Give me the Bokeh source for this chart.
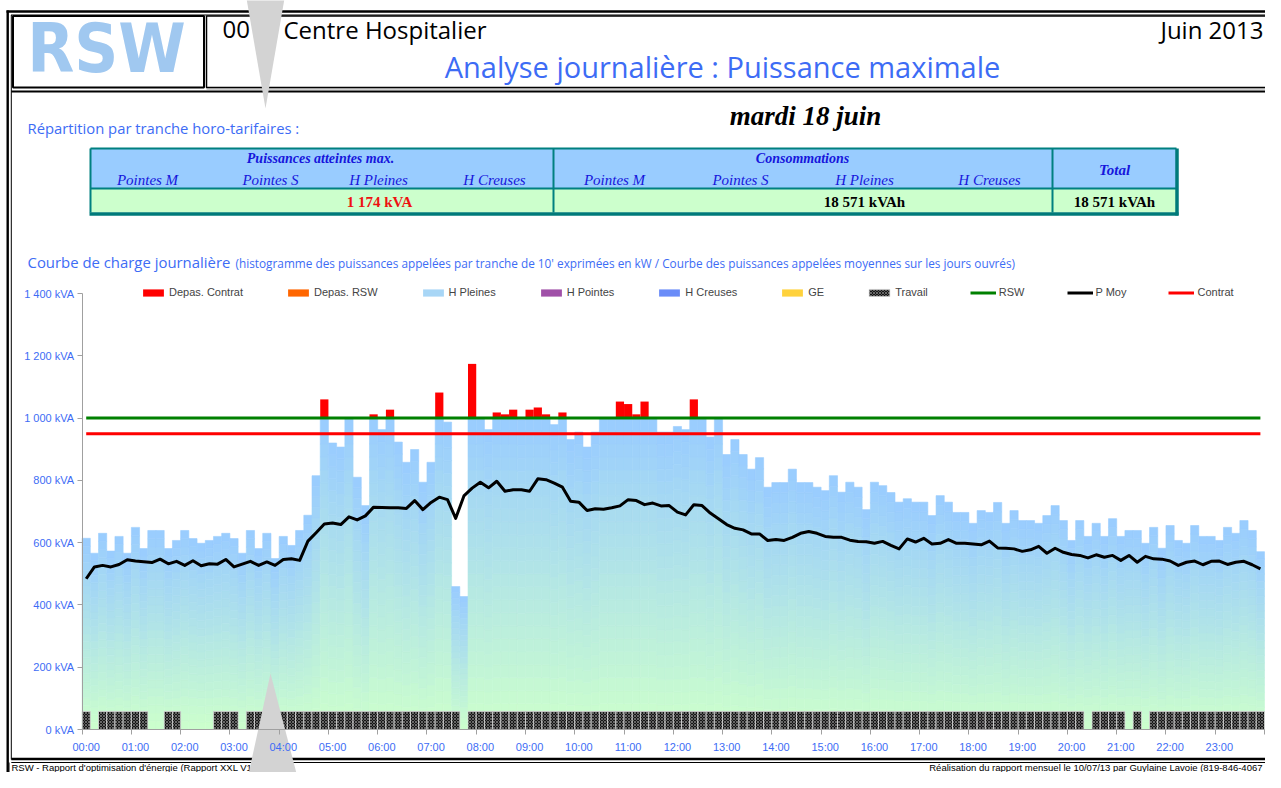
from bokeh.plotting import figure
from bokeh.models import Range1d, LinearAxis, FixedTicker, Legend, LegendItem, ColumnDataSource
from bokeh.core.properties import value
from bokeh.embed import file_html
from bokeh.resources import INLINE

# ---------------- data ----------------
hour_labels = ["%02d:00" % h for h in range(24)]
y_ticks = [0, 200, 400, 600, 800, 1000, 1200, 1400]
y_labels = ["0 kVA", "200 kVA", "400 kVA", "600 kVA", "800 kVA", "1 000 kVA", "1 200 kVA", "1 400 kVA"]

# puissance appelée par tranche de 10 minutes (kVA), 00:00 -> 23:50
puissance = [
    614, 566, 630, 573, 620, 566, 649, 581, 639, 639, 581, 607,
    639, 613, 598, 607, 620, 630, 613, 566, 639, 581, 630, 549,
    620, 591, 639, 688, 815, 1060, 920, 907, 1000, 810, 719, 1012,
    963, 1027, 923, 858, 899, 794, 858, 1082, 987, 459, 427, 1174,
    1000, 963, 1018, 1012, 1027, 995, 1027, 1034, 1012, 979, 1018, 931,
    955, 907, 955, 1000, 1000, 1053, 1045, 1012, 1053, 1000, 955, 955,
    973, 963, 1060, 1000, 939, 1000, 883, 931, 883, 836, 873, 778,
    793, 793, 836, 793, 793, 778, 767, 815, 762, 794, 778, 706,
    794, 783, 761, 730, 741, 730, 730, 687, 751, 730, 697, 697,
    662, 703, 697, 729, 662, 703, 671, 671, 662, 687, 719, 671,
    607, 671, 620, 662, 620, 677, 620, 639, 639, 598, 649, 582,
    655, 607, 598, 655, 620, 620, 607, 649, 630, 671, 639, 571,
]
# puissance moyenne des jours ouvrés (kVA)
p_moy = [
    484, 522, 527, 522, 530, 545, 541, 539, 536, 547, 532, 540,
    527, 542, 526, 532, 531, 546, 522, 531, 540, 527, 538, 527,
    546, 548, 543, 605, 632, 660, 663, 658, 683, 673, 686, 714,
    713, 712, 712, 710, 735, 706, 729, 746, 738, 678, 750, 775,
    794, 776, 797, 765, 770, 770, 765, 805, 802, 791, 778, 733,
    730, 703, 709, 707, 712, 718, 738, 735, 722, 727, 718, 719,
    698, 689, 722, 719, 695, 677, 658, 646, 641, 628, 628, 607,
    610, 607, 617, 630, 636, 630, 620, 617, 617, 608, 604, 603,
    598, 604, 591, 580, 612, 602, 614, 596, 598, 610, 598, 598,
    596, 593, 605, 583, 582, 580, 572, 577, 588, 566, 582, 569,
    562, 559, 551, 561, 553, 559, 543, 559, 537, 556, 548, 547,
    541, 527, 537, 541, 529, 540, 541, 530, 537, 540, 529, 516,
]
# tranches de travail (1 = travail)
travail = [
    1, 0, 1, 1, 1, 1, 1, 1, 0, 0, 1, 1,
    0, 0, 0, 0, 1, 1, 1, 0, 1, 1, 1, 1,
    1, 1, 1, 1, 1, 1, 1, 1, 1, 1, 1, 1,
    1, 1, 1, 1, 1, 1, 1, 1, 1, 1, 0, 1,
    1, 1, 1, 1, 1, 1, 1, 1, 1, 1, 1, 1,
    1, 1, 1, 1, 1, 1, 1, 1, 1, 1, 1, 1,
    1, 1, 1, 1, 1, 1, 1, 1, 1, 1, 1, 1,
    1, 1, 1, 1, 1, 1, 1, 1, 1, 1, 1, 1,
    1, 1, 1, 1, 1, 1, 1, 1, 1, 1, 1, 1,
    1, 1, 1, 1, 1, 1, 1, 1, 1, 1, 1, 1,
    1, 1, 0, 1, 1, 1, 1, 0, 1, 0, 1, 1,
    1, 1, 1, 1, 1, 1, 1, 1, 1, 1, 1, 1,
]
travail_kva = 58
rsw_kva = 1000
contrat_kva = 950

site_code = "00"
site_name = "Centre Hospitalier"
month_label = "Juin 2013"
page_title = "Analyse journalière : Puissance maximale"
day_label = "mardi 18 juin"
tranches = ["Pointes M", "Pointes S", "H Pleines", "H Creuses"]
max_power_label = "1 174 kVA"
conso_label = "18 571 kVAh"
total_label = "18 571 kVAh"
footer_left = "RSW - Rapport d'optimisation d'énergie (Rapport XXL V1.35"
footer_right = "Réalisation du rapport mensuel le 10/07/13 par Guylaine Lavoie (819-846-4067"

# ---------------- layout constants (screen pixels) ----------------
W, H = 1265, 772
AX_X = 81.6
n = len(puissance)
BAR_PX = (1264.0 - AX_X) / n
ZERO_Y, TOP_Y, YMAX = 729.0, 293.0, 1400.0
KPX = (ZERO_Y - TOP_Y) / YMAX

BLUE = "#3d6cf5"
TBLUE = "#1616dc"
NARROW = "Liberation Sans Narrow, Liberation Sans, sans-serif"
SANS = "Liberation Sans"
UI = "Open Sans"
SERIF = "Liberation Serif"

p = figure(width=W, height=H, x_range=Range1d(0, W), y_range=Range1d(H, 0),
           output_backend="svg", toolbar_location=None, min_border=0,
           x_axis_type=None, y_axis_type=None)
p.outline_line_color = None
p.background_fill_color = "white"
p.xgrid.visible = False
p.ygrid.visible = False
p.extra_x_ranges = {"bars": Range1d((0 - AX_X) / BAR_PX - 0.5, (W - AX_X) / BAR_PX - 0.5)}
p.extra_y_ranges = {"kva": Range1d((ZERO_Y - H) / KPX, ZERO_Y / KPX)}
CH = dict(x_range_name="bars", y_range_name="kva")

# ---------------- frame / header decorations ----------------
p.segment(x0=[6, 10.5], y0=[11, 14.5], x1=[W, W], y1=[11, 14.5], line_color="black", line_width=[2.5, 1])
p.segment(x0=[7.2, 10.8], y0=[10, 14.5], x1=[7.2, 10.8], y1=[H, 759], line_color="black", line_width=[2.4, 1])
p.quad(left=[12.5], right=[203.5], top=[15.5], bottom=[87], fill_color=None, line_color="black", line_width=2)
p.quad(left=[206], right=[1300], top=[15.5], bottom=[87], fill_color=None, line_color="black", line_width=1.5)
p.segment(x0=[206], y0=[88.3], x1=[W], y1=[88.3], line_color="#a0a0a0", line_width=1.5)
p.segment(x0=[10.8], y0=[91], x1=[W], y1=[91], line_color="black", line_width=2)
p.segment(x0=[10.8, 10.8], y0=[758.5, 762], x1=[W, W], y1=[758.5, 762], line_color="black", line_width=[2.5, 1])

# logo
p.text(x=[106], y=[48], text=["RSW"], text_font=value("DejaVu Sans Condensed, Liberation Sans Narrow, sans-serif"),
       text_font_style="bold", text_font_size="68px", text_color="#a0c8f0", text_align="center",
       text_baseline="middle")

# header texts
p.text(x=[222], y=[29], text=[site_code], text_font=value(UI), text_font_size="24px",
       text_color="black", text_baseline="middle")
p.text(x=[283], y=[29], text=[site_name], text_font=value(UI), text_font_size="24px",
       text_color="black", text_baseline="middle")
p.text(x=[1263], y=[29], text=[month_label], text_font=value(UI), text_font_size="24px",
       text_color="black", text_align="right", text_baseline="middle")
p.text(x=[722], y=[66], text=[page_title], text_font=value(UI), text_font_size="29px",
       text_color=BLUE, text_align="center", text_baseline="middle")
p.text(x=[27], y=[127], text=["Répartition par tranche horo-tarifaires :"], text_font=value(UI),
       text_font_size="14.8px", text_color=BLUE, text_baseline="middle")
p.text(x=[805], y=[115], text=[day_label], text_font=value(SERIF), text_font_style="bold italic",
       text_font_size="27px", text_color="black", text_align="center", text_baseline="middle")

# table
p.quad(left=[90, 90], right=[1176, 1176], top=[148, 188], bottom=[188, 212],
       fill_color=["#99ccff", "#ccffcc"], line_color=None)
p.segment(x0=[90, 90, 90, 553, 1052], y0=[148, 188, 148, 148, 148],
          x1=[1176, 1176, 90, 553, 1052], y1=[148, 188, 212, 212, 212],
          line_color="#008080", line_width=2)
p.segment(x0=[89, 1176.5], y0=[213.5, 148], x1=[1178, 1176.5], y1=[213.5, 215],
          line_color="#007a7a", line_width=3.5)
p.text(x=[320, 802], y=[158, 158], text=["Puissances atteintes max.", "Consommations"],
       text_font=value(SERIF), text_font_style="bold italic", text_font_size="14px",
       text_color=TBLUE, text_align="center", text_baseline="middle")
p.text(x=[1114], y=[169], text=["Total"], text_font=value(SERIF), text_font_style="bold italic",
       text_font_size="15px", text_color=TBLUE, text_align="center", text_baseline="middle")
p.text(x=[147, 270, 378, 494, 614, 740, 864, 989], y=[179] * 8, text=tranches + tranches,
       text_font=value(SERIF), text_font_style="italic", text_font_size="15px",
       text_color=TBLUE, text_align="center", text_baseline="middle")
p.text(x=[379], y=[201], text=[max_power_label], text_font=value(SERIF), text_font_style="bold",
       text_font_size="15px", text_color="#ee1111", text_align="center", text_baseline="middle")
p.text(x=[864, 1114], y=[201, 201], text=[conso_label, total_label], text_font=value(SERIF),
       text_font_style="bold", text_font_size="15px", text_color="black", text_align="center",
       text_baseline="middle")

# chart captions
p.text(x=[27], y=[261], text=["Courbe de charge journalière"], text_font=value(UI),
       text_font_size="14.9px", text_color=BLUE, text_baseline="middle")
p.text(x=[235], y=[262], text=["(histogramme des puissances appelées par tranche de 10' exprimées en kW / "
                               "Courbe des puissances appelées moyennes sur les jours ouvrés)"],
       text_font=value(UI), text_font_size="11.8px", text_color=BLUE, text_baseline="middle")

# footer
p.segment(x0=[8.5], y0=[762], x1=[8.5], y1=[H], line_color="black", line_width=1)
p.text(x=[11], y=[767], text=[footer_left], text_font=value(NARROW), text_font_size="9.5px",
       text_color="black", text_baseline="middle")
p.text(x=[1262], y=[767], text=[footer_right], text_font=value(NARROW), text_font_size="9.5px",
       text_color="black", text_align="right", text_baseline="middle")

# ---------------- chart ----------------
idx = list(range(n))
N_SL = 24
c_bot = (0xcc, 0xff, 0xcc)
c_top = (0x99, 0xcc, 0xff)
gx, gb, gt, gc = [], [], [], []
for i, v in enumerate(puissance):
    b = min(v, rsw_kva)
    for j in range(N_SL):
        f = (j + 0.5) / N_SL
        col = "#%02x%02x%02x" % tuple(int(round(c_bot[c] + (c_top[c] - c_bot[c]) * f)) for c in range(3))
        gx.append(i)
        gb.append(b * j / N_SL)
        gt.append(b * (j + 1) / N_SL)
        gc.append(col)
grad = ColumnDataSource(dict(x=gx, bottom=gb, top=gt, color=gc))
p.vbar(x="x", bottom="bottom", top="top", width=1, fill_color="color", line_color="color",
       line_width=0.6, source=grad, **CH)

dep_x = [i for i, v in enumerate(puissance) if v > rsw_kva]
dep_top = [v for v in puissance if v > rsw_kva]
r_dep = p.vbar(x=dep_x, bottom=rsw_kva, top=dep_top, width=1, fill_color="#ff0000", line_color=None, **CH)

tr_x = [i for i, t in enumerate(travail) if t]
r_tr = p.vbar(x=tr_x, bottom=0, top=travail_kva, width=1, fill_color="#151515", line_color="#e0e0e0",
              line_width=0.8, hatch_pattern="x", hatch_color="#8a8a8a", hatch_scale=3, hatch_weight=0.7, **CH)

r_rsw = p.line(x=idx, y=[rsw_kva] * n, line_color="#008000", line_width=3, **CH)
r_con = p.line(x=idx, y=[contrat_kva] * n, line_color="#ff0000", line_width=3, **CH)
r_moy = p.line(x=idx, y=p_moy, line_color="black", line_width=3, line_join="round", **CH)

# series with no value on this day (zero-height bars, shown in the legend only)
def empty_series(color):
    return p.vbar(x=[0], top=[0], bottom=[0], width=1, fill_color=color, line_color=None, **CH)

r_drsw = empty_series("#ff6600")
r_hp = empty_series("#a8d6f6")
r_hpt = empty_series("#a050a8")
r_hc = empty_series("#6a8cf8")
r_ge = empty_series("#ffd23c")

# axes
yax = LinearAxis(y_range_name="kva", fixed_location=AX_X, bounds=(0, YMAX),
                 ticker=FixedTicker(ticks=y_ticks, minor_ticks=[]),
                 major_label_overrides=dict(zip(y_ticks, y_labels)))
yax.axis_line_color = "#a0a0a0"
yax.major_tick_line_color = "#a0a0a0"
yax.major_tick_out = 5
yax.major_tick_in = 0
yax.minor_tick_line_color = None
yax.major_label_text_color = BLUE
yax.major_label_text_font = NARROW
yax.major_label_text_font_size = "11px"
yax.major_label_standoff = 3
p.add_layout(yax, "left")

hx = [6 * h for h in range(24)]
xax = LinearAxis(x_range_name="bars", fixed_location=ZERO_Y, bounds=(-0.5, n - 0.5),
                 ticker=FixedTicker(ticks=hx, minor_ticks=[6 * h - 0.5 for h in range(25)]),
                 major_label_overrides=dict(zip(hx, hour_labels)))
xax.axis_line_color = "#a0a0a0"
xax.major_tick_line_color = None
xax.major_tick_out = 0
xax.major_tick_in = 0
xax.minor_tick_line_color = "#a0a0a0"
xax.minor_tick_out = 5
xax.minor_tick_in = 0
xax.major_label_text_color = BLUE
xax.major_label_text_font = NARROW
xax.major_label_text_font_size = "11px"
xax.major_label_standoff = 6
p.add_layout(xax, "below")

legend = Legend(items=[
    LegendItem(label="Depas. Contrat", renderers=[r_dep]),
    LegendItem(label="Depas. RSW", renderers=[r_drsw]),
    LegendItem(label="H Pleines", renderers=[r_hp]),
    LegendItem(label="H Pointes", renderers=[r_hpt]),
    LegendItem(label="H Creuses", renderers=[r_hc]),
    LegendItem(label="GE", renderers=[r_ge]),
    LegendItem(label="Travail", renderers=[r_tr]),
    LegendItem(label="RSW", renderers=[r_rsw]),
    LegendItem(label="P Moy", renderers=[r_moy]),
    LegendItem(label="Contrat", renderers=[r_con]),
], orientation="horizontal", location=(140, H - 298), glyph_width=26, glyph_height=9,
    label_standoff=3, spacing=42, padding=0, margin=0, border_line_color=None,
    background_fill_alpha=0, label_text_font=SANS, label_text_font_size="11px",
    label_height=12, label_width=10)
p.add_layout(legend)

# overlay triangles
p.patches(xs=[[246, 284, 265], [244, 301, 270]], ys=[[-2, -2, 108], [H + 20, H + 20, 673]],
          fill_color="#d3d3d3", line_color=None)

open("out.html", "w").write(file_html(p, INLINE))
